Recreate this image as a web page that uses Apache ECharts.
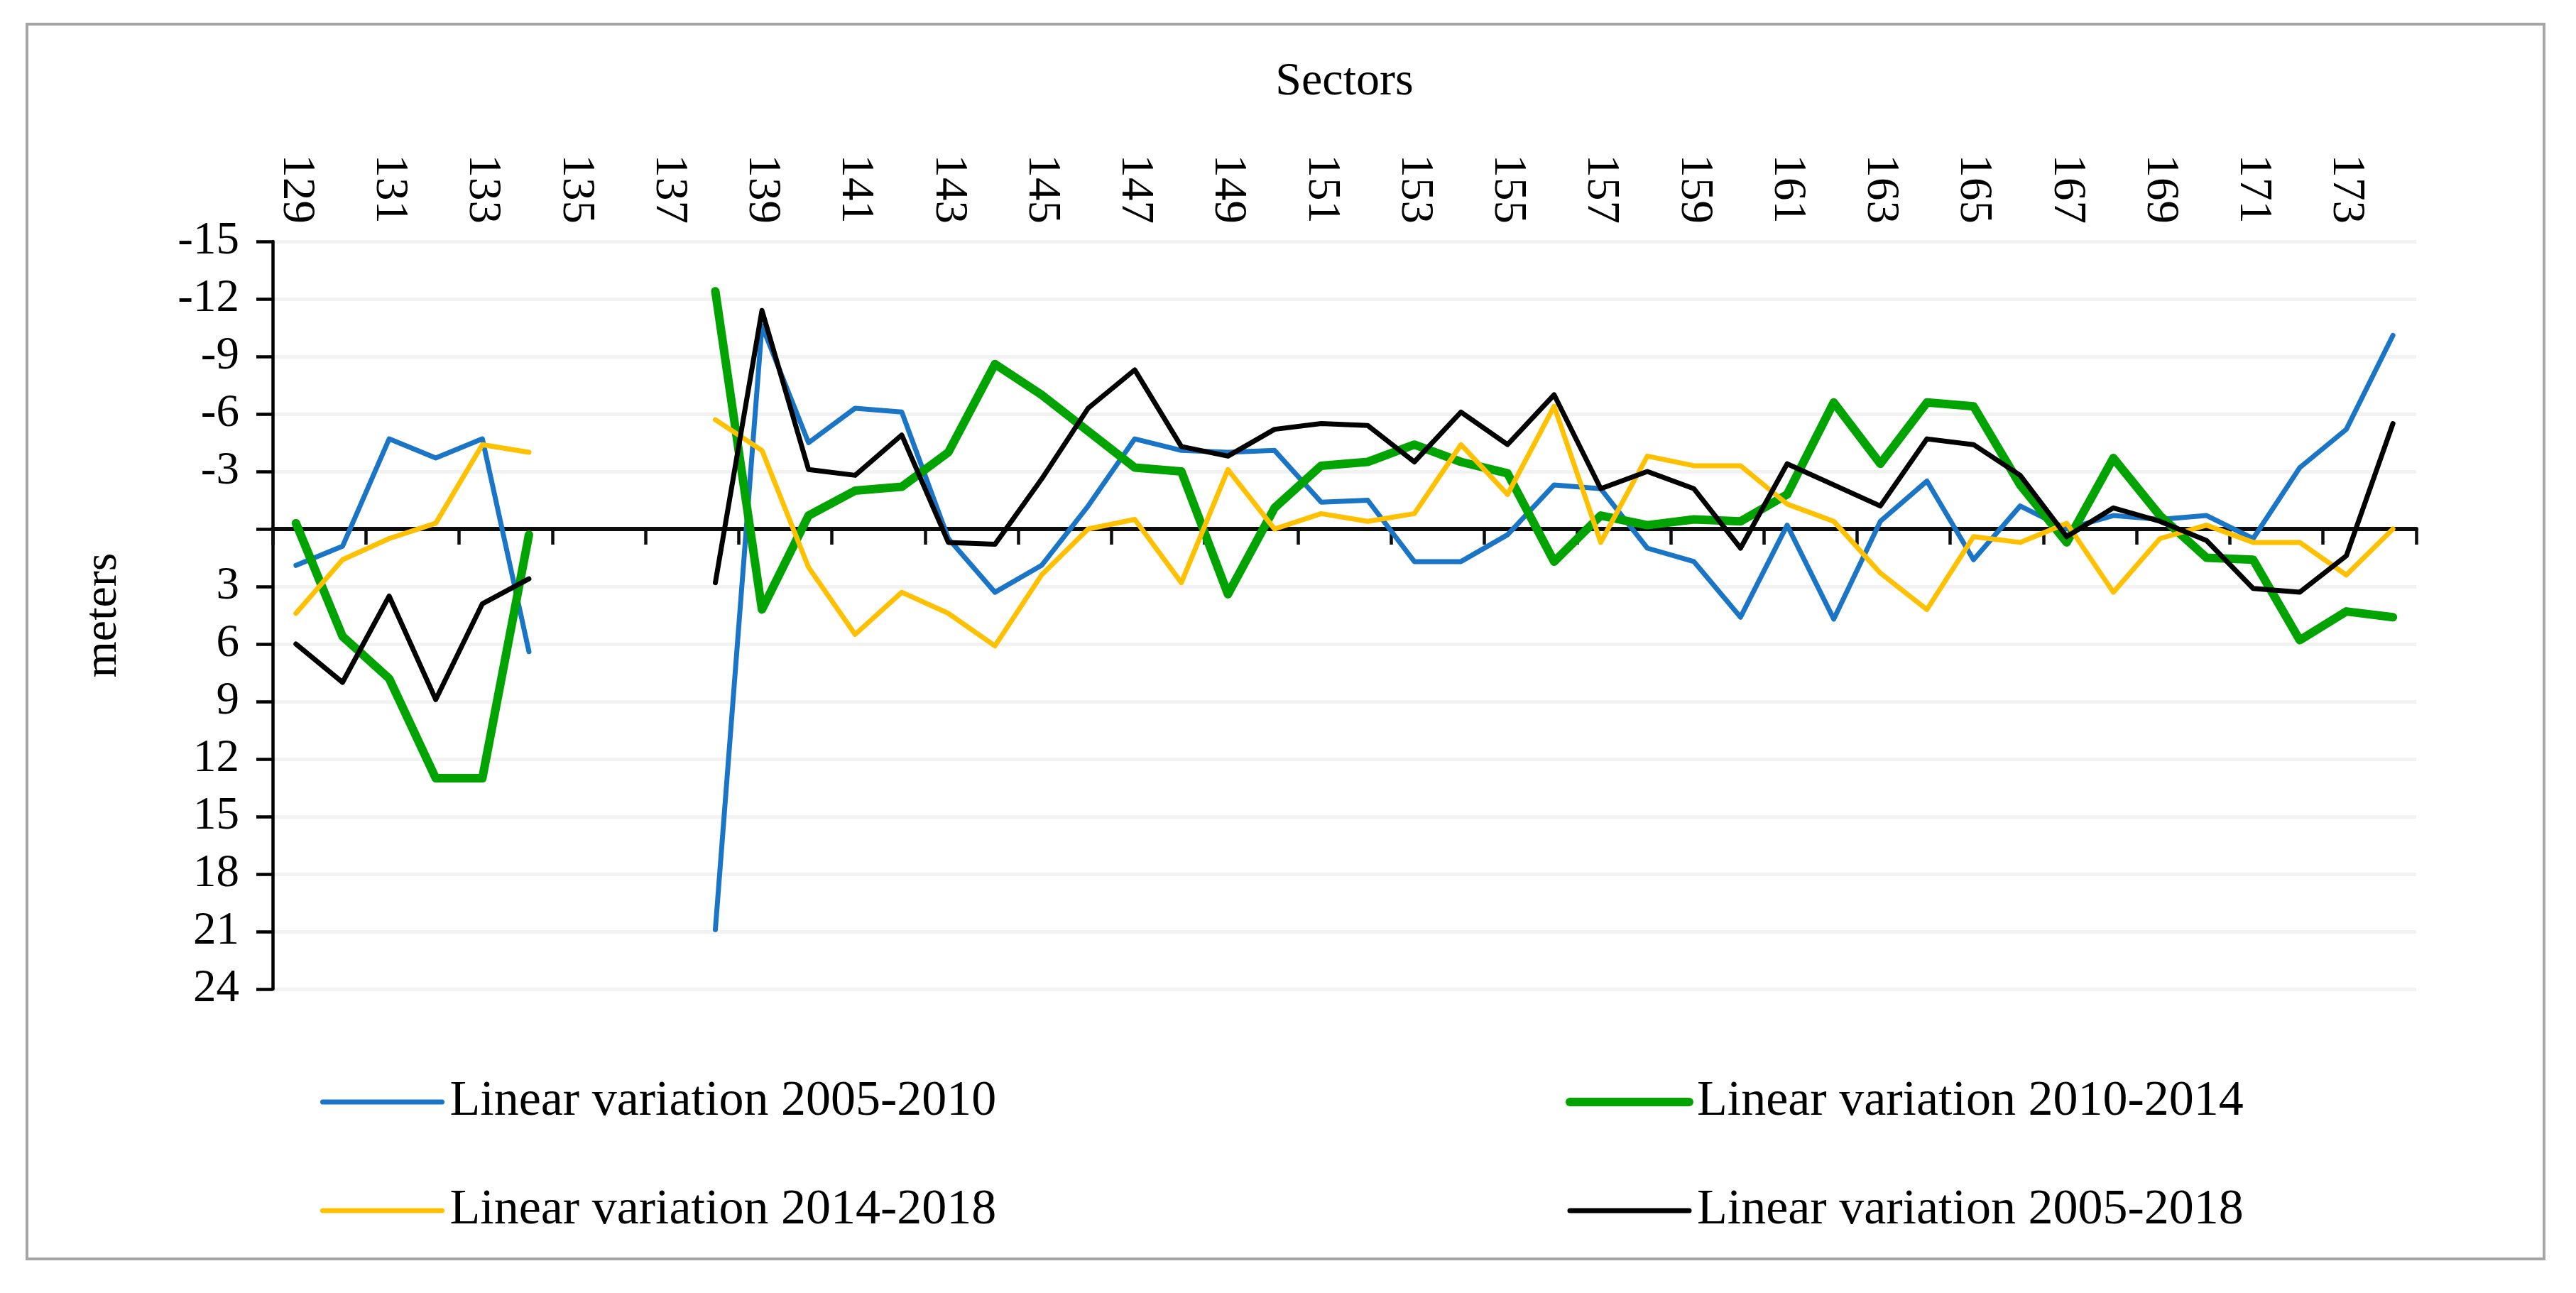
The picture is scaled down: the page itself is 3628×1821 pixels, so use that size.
<!DOCTYPE html>
<html>
<head>
<meta charset="utf-8">
<script src="https://cdn.jsdelivr.net/npm/echarts@6/dist/echarts.min.js"></script>
<style>
html,body{margin:0;padding:0;background:#fff;}
#chart{width:3628px;height:1821px;}
</style>
</head>
<body>
<div id="chart"></div>
<script>
const sectors = ['129','130','131','132','133','134','135','136','137','138','139','140','141','142','143','144','145','146','147','148','149','150','151','152','153','154','155','156','157','158','159','160','161','162','163','164','165','166','167','168','169','170','171','172','173','174'];

const var2005_2010 = [1.9,0.9,-4.7,-3.7,-4.7,6.4,null,null,null,20.9,-10.6,-4.5,-6.3,-6.1,0.5,3.3,1.9,-1.2,-4.7,-4.1,-4.0,-4.1,-1.4,-1.5,1.7,1.7,0.3,-2.3,-2.1,1.0,1.7,4.6,-0.2,4.7,-0.4,-2.5,1.6,-1.2,0.0,-0.7,-0.5,-0.7,0.5,-3.2,-5.2,-10.1];

const var2010_2014 = [-0.3,5.6,7.8,13.0,13.0,0.3,null,null,null,-12.4,4.2,-0.7,-2.0,-2.2,-4.0,-8.6,-7.0,-5.1,-3.2,-3.0,3.4,-1.1,-3.3,-3.5,-4.4,-3.5,-2.9,1.7,-0.7,-0.2,-0.5,-0.4,-1.8,-6.6,-3.4,-6.6,-6.4,-2.3,0.7,-3.7,-0.7,1.5,1.6,5.8,4.3,4.6];

const var2014_2018 = [4.4,1.6,0.5,-0.3,-4.4,-4.0,null,null,null,-5.7,-4.1,2.0,5.5,3.3,4.4,6.1,2.4,0.0,-0.5,2.8,-3.1,0.0,-0.8,-0.4,-0.8,-4.4,-1.8,-6.4,0.7,-3.8,-3.3,-3.3,-1.3,-0.4,2.3,4.2,0.4,0.7,-0.3,3.3,0.5,-0.2,0.7,0.7,2.4,0.0];

const var2005_2018 = [6.0,8.0,3.5,8.9,3.9,2.6,null,null,null,2.8,-11.4,-3.1,-2.8,-4.9,0.7,0.8,-2.6,-6.3,-8.3,-4.3,-3.8,-5.2,-5.5,-5.4,-3.5,-6.1,-4.4,-7.0,-2.1,-3.0,-2.1,1.0,-3.4,-2.3,-1.2,-4.7,-4.4,-2.8,0.4,-1.1,-0.4,0.6,3.1,3.3,1.4,-5.5];

const seriesNames = ['Linear variation 2005-2010','Linear variation 2010-2014','Linear variation 2014-2018','Linear variation 2005-2018'];
const seriesColors = ['#1B75C6','#00A300','#FFC000','#000000'];
const seriesWidths = [7,12,7,7];
const seriesData = [var2005_2010, var2010_2014, var2014_2018, var2005_2018];

const FONT = 'Liberation Serif';
const chart = echarts.init(document.getElementById('chart'));

const legendCommon = {
  orient: 'vertical',
  top: 1512,
  itemWidth: 168, itemHeight: 30, itemGap: 83,
  itemStyle: { opacity: 0 },
  lineStyle: { width: 'inherit' },
  textStyle: { fontFamily: FONT, fontSize: 70, color: '#000', lineHeight: 68, padding: [0,0,0,6] }
};

const option = {
  backgroundColor: '#ffffff',
  animation: false,
  textStyle: { fontFamily: FONT, color: '#000' },
  graphic: [{
    type: 'rect',
    shape: { x: 38, y: 34, width: 3545, height: 1739 },
    style: { fill: 'none', stroke: '#a6a6a6', lineWidth: 4 },
    silent: true
  }],
  grid: { left: 384, right: 225, top: 340, bottom: 428, containLabel: false },
  legend: [
    Object.assign({}, legendCommon, { left: 446, data: [seriesNames[0], seriesNames[2]] }),
    Object.assign({}, legendCommon, { left: 2200, data: [seriesNames[1], seriesNames[3]] })
  ],
  xAxis: [
    {
      type: 'category',
      data: sectors,
      position: 'top',
      boundaryGap: true,
      name: 'Sectors',
      nameLocation: 'middle',
      nameGap: 191,
      nameTextStyle: { fontFamily: FONT, fontSize: 66, color: '#000' },
      axisLine: { show: false, onZero: false },
      axisTick: { show: false },
      axisLabel: { interval: 1, rotate: 90, margin: 25, fontFamily: FONT, fontSize: 65, color: '#000' },
      splitLine: { show: false }
    },
    {
      type: 'category',
      data: sectors,
      position: 'bottom',
      boundaryGap: true,
      axisLine: { show: true, onZero: true, lineStyle: { color: '#0d0d0d', width: 6 } },
      axisTick: { show: true, interval: 1, length: 22, inside: false, lineStyle: { color: '#0d0d0d', width: 4.5 } },
      axisLabel: { show: false },
      splitLine: { show: false }
    }
  ],
  yAxis: {
    type: 'value',
    inverse: true,
    min: -15, max: 24, interval: 3,
    name: 'meters',
    nameLocation: 'middle',
    nameGap: 205,
    nameTextStyle: { fontFamily: FONT, fontSize: 66, color: '#000' },
    axisLine: { show: true, lineStyle: { color: '#000', width: 4.5 } },
    axisTick: { show: true, length: 23, inside: false, lineStyle: { color: '#000', width: 4.5 } },
    axisLabel: {
      margin: 47, fontFamily: FONT, fontSize: 65, color: '#000',
      formatter: function (v) { return v === 0 ? '' : String(v); }
    },
    splitLine: { show: true, lineStyle: { color: '#f2f2f2', width: 5 } }
  },
  series: seriesData.map(function (d, i) {
    return {
      name: seriesNames[i],
      type: 'line',
      xAxisIndex: 0,
      data: d,
      symbol: 'none',
      connectNulls: false,
      color: seriesColors[i],
      lineStyle: { color: seriesColors[i], width: seriesWidths[i], join: 'round', cap: 'round' },
      z: 2 + i
    };
  })
};
chart.setOption(option);
</script>
</body>
</html>
